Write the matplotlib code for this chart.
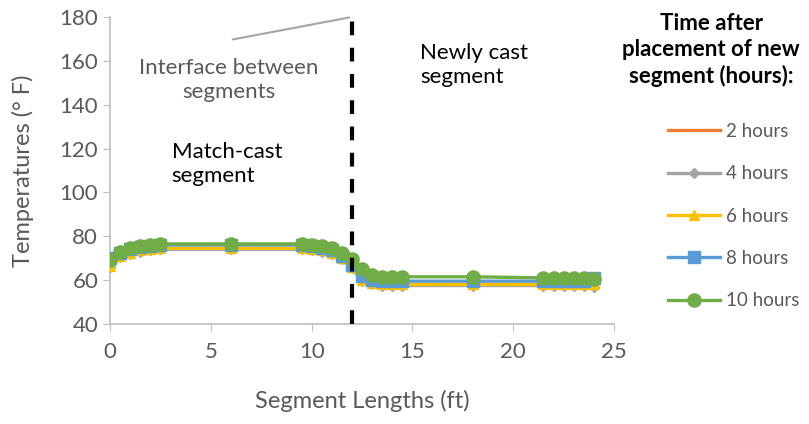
import matplotlib
matplotlib.use("Agg")
import matplotlib.pyplot as plt

plt.rcParams['font.family'] = ['Lato', 'DejaVu Sans']

x = [0, 0.5, 1, 1.5, 2, 2.5, 6, 9.5, 10, 10.5, 11, 11.5, 12, 12.5, 13, 13.5, 14, 14.5,
     18, 21.5, 22, 22.5, 23, 23.5, 24]
h2 = [65.5, 70.5, 72, 73, 73.5, 74, 74, 74, 73.5, 73, 72, 69.5, 65.5, 60, 58.5, 58, 58, 58,
      58, 58, 58, 58, 58, 58, 58]
h4 = [66, 70.5, 72, 73, 73.5, 74, 74, 74, 73.5, 73, 72, 69.5, 65.5, 59.5, 58, 57.5, 57.5, 57.5,
      57.5, 57.5, 57.5, 57.5, 57.5, 57.5, 57]
h6 = [66.5, 71, 72.5, 73.5, 74, 74.5, 74.5, 74.5, 74, 73.5, 72.5, 70, 66, 60, 58.5, 58, 58, 58,
      58, 58, 58, 58, 58, 58, 58]
h8 = [70, 72.5, 74, 75, 75.5, 76, 76, 76, 75.5, 74.5, 73.5, 71, 67, 62, 60, 59.5, 59.5, 59.5,
      59.5, 59.5, 59.5, 59.5, 59.5, 59.5, 61]
h10 = [69, 73, 74.5, 75.5, 76, 76.5, 76.5, 76.5, 76, 75.5, 74.5, 72.5, 69.5, 65, 62.5, 61.5, 61.5,
       61.5, 61.5, 61, 61, 61, 61, 61, 60.5]
labels = ["2 hours", "4 hours", "6 hours", "8 hours", "10 hours"]
colors = ["#ED7D31", "#A5A5A5", "#FFC000", "#5B9BD5", "#70AD47"]
markers = [None, "D", "^", "s", "o"]
msizes = [0, 5, 7.5, 8, 9.5]
series = [h2, h4, h6, h8, h10]

fig = plt.figure(figsize=(8.09, 4.24), dpi=100)
ax = fig.add_axes([0.136, 0.236, 0.623, 0.724])

for ys, c, m, ms, lab in zip(series, colors, markers, msizes, labels):
    ax.plot(x, ys, color=c, lw=2.4, marker=m, markersize=ms, label=lab, zorder=3)

ax.plot([12, 12], [40, 180], color="black", lw=3, linestyle=(0, (3.3, 3)), zorder=4)

ax.set_xlim(0, 25)
ax.set_ylim(40, 180)
ax.set_xticks([0, 5, 10, 15, 20, 25])
ax.set_yticks(range(40, 181, 20))
gray = "#595959"
for s in ["top", "right"]:
    ax.spines[s].set_visible(False)
for s in ["left", "bottom"]:
    ax.spines[s].set_color("#BFBFBF")
    ax.spines[s].set_linewidth(1.2)
ax.tick_params(axis="both", colors="#BFBFBF", labelcolor=gray, labelsize=16, length=5)
ax.tick_params(axis="x", pad=8)
ax.set_xlabel("Segment Lengths (ft)", fontsize=17, color=gray, labelpad=20)
ax.set_ylabel("Temperatures (° F)", fontsize=17, color=gray, labelpad=18)

# annotations
ax.annotate("", xy=(12, 180), xytext=(5.95, 169.5),
            arrowprops=dict(arrowstyle="-", color="#A5A5A5", lw=1.5))
ax.text(5.9, 151.3, "Interface between\nsegments", ha="center", va="center", fontsize=16,
        color=gray, linespacing=1.25)
ax.text(3.05, 113, "Match-cast\nsegment", ha="left", va="center", fontsize=16, color="black",
        linespacing=1.25)
ax.text(15.4, 158, "Newly cast\nsegment", ha="left", va="center", fontsize=16, color="black",
        linespacing=1.25)

fig.text(0.879, 0.882, "Time after\nplacement of new\nsegment (hours):", ha="center",
         va="center", fontsize=16, fontweight="bold", color="black", linespacing=1.3)

handles, labs = ax.get_legend_handles_labels()
fig.legend(handles, labs, loc="upper left", bbox_to_anchor=(0.826, 0.71), frameon=False,
           borderpad=0, borderaxespad=0,
           fontsize=13.5, labelcolor=gray, handlelength=2.75, handletextpad=0.32,
           labelspacing=1.35)

fig.savefig("out.png", dpi=100)
